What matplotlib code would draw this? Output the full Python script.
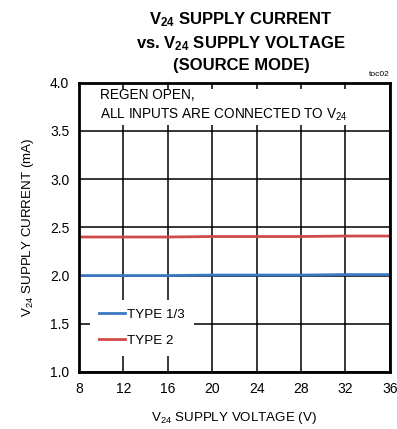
import matplotlib
matplotlib.use('Agg')
import matplotlib.pyplot as plt
from matplotlib.patches import Rectangle

plt.rcParams['font.family'] = ['Liberation Sans', 'DejaVu Sans']
plt.rcParams['mathtext.default'] = 'regular'

voltage = [8, 12, 16, 20, 24, 28, 32, 36]
type13 = [2.00, 2.00, 2.00, 2.005, 2.005, 2.005, 2.01, 2.01]
type2 = [2.40, 2.40, 2.40, 2.405, 2.405, 2.405, 2.41, 2.41]
xticks = [8, 12, 16, 20, 24, 28, 32, 36]
yticks = [1.0, 1.5, 2.0, 2.5, 3.0, 3.5, 4.0]

fig = plt.figure(figsize=(3.97, 4.29), dpi=100)
ax = fig.add_axes([0.199, 0.133, 0.783, 0.674])

ax.plot(voltage, type13, color='#3a78c2', lw=2.0, label='TYPE 1/3', zorder=3)
ax.plot(voltage, type2, color='#d04a4a', lw=2.0, label='TYPE 2', zorder=3)

ax.set_xlim(8, 36)
ax.set_ylim(1.0, 4.0)
ax.set_xticks(xticks)
ax.set_yticks(yticks)
ax.set_yticklabels(['%.1f' % v for v in yticks])
ax.grid(True, color='black', lw=1.1)
ax.tick_params(length=0, labelsize=10, pad=7)
for s in ax.spines.values():
    s.set_linewidth(2.0)
    s.set_zorder(4)

# white box behind the note at the top
ax.add_patch(Rectangle((0.0, 0.855), 0.995, 0.125, transform=ax.transAxes,
                       facecolor='white', edgecolor='none', zorder=2))
ax.text(0.068, 0.922, 'REGEN OPEN,\nALL INPUTS ARE CONNECTED TO V$_{24}$',
        transform=ax.transAxes, fontsize=9.8, va='center', ha='left',
        linespacing=1.35, zorder=5)

leg = ax.legend(loc='lower left', bbox_to_anchor=(0.035, 0.056), borderaxespad=0,
                fontsize=9.6, frameon=True, fancybox=False, framealpha=1,
                edgecolor='none', handlelength=2.0, handletextpad=0.15,
                labelspacing=1.05, borderpad=0.65)
leg.set_zorder(5)

ax.set_xlabel('V$_{24}$ SUPPLY VOLTAGE (V)', fontsize=9.6, labelpad=10)
ax.set_ylabel('V$_{24}$ SUPPLY CURRENT (mA)', fontsize=9.6, labelpad=10)

fig.text(0.607, 0.977, 'V$_{24}$ SUPPLY CURRENT\nvs. V$_{24}$ SUPPLY VOLTAGE\n(SOURCE MODE)',
         ha='center', va='top', fontsize=12, fontweight='bold', linespacing=1.42)
fig.text(0.982, 0.818, 'toc02', ha='right', va='bottom', fontsize=6)

fig.savefig('out.png', dpi=100)
